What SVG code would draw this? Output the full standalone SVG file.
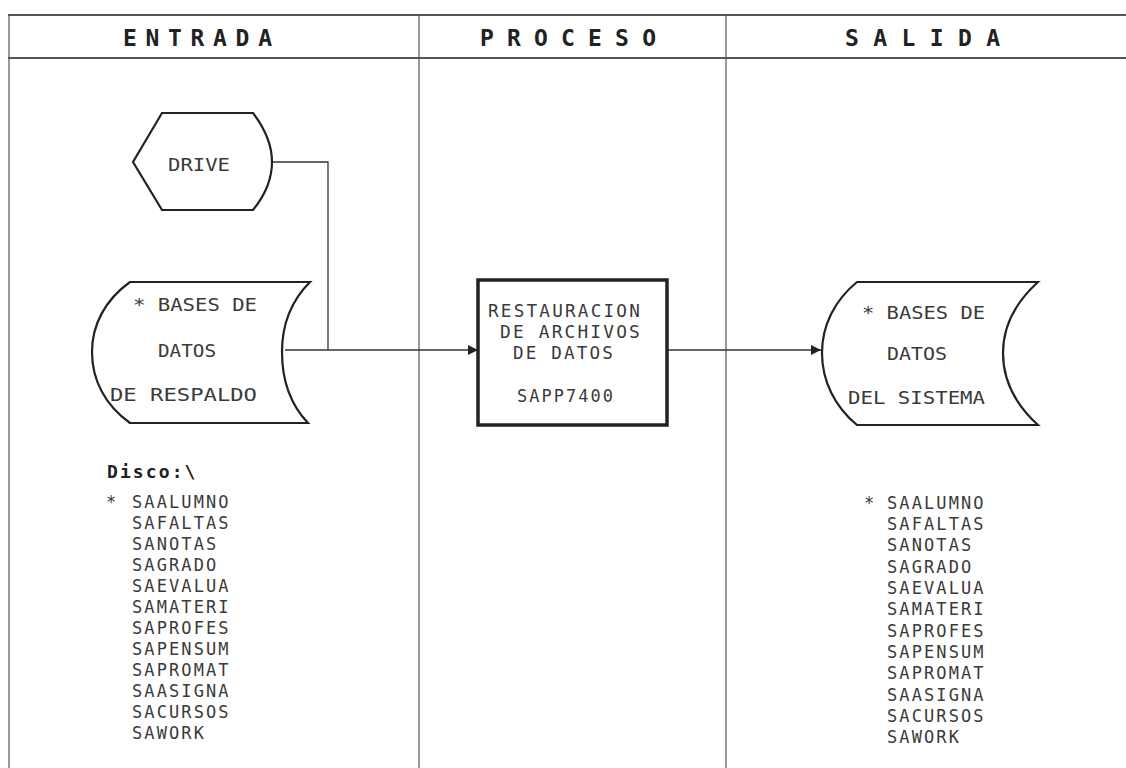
<svg xmlns="http://www.w3.org/2000/svg" width="1126" height="768" viewBox="0 0 1126 768">
<style>
.frame{stroke:#555;stroke-width:1.2;fill:none}
.hline{stroke:#555;stroke-width:2;fill:none}
.shape{stroke:#222;stroke-width:2.2;fill:#fff}
.box{stroke:#222;stroke-width:3.5;fill:#fff}
.conn{stroke:#333;stroke-width:1.3;fill:none}
.hdr{font-family:"DejaVu Sans Mono","Liberation Mono",monospace;font-weight:bold;font-size:23px;fill:#222}
.t{font-family:"DejaVu Sans Mono","Liberation Mono",monospace;font-size:18px;fill:#3a3a3a}
.l{font-family:"DejaVu Sans Mono","Liberation Mono",monospace;font-size:17px;letter-spacing:2.1px;fill:#3a3a3a}
.b{font-family:"DejaVu Sans Mono","Liberation Mono",monospace;font-size:18px;font-weight:bold;fill:#222}
</style>
<defs>
<marker id="arr" viewBox="0 0 10 10" refX="10" refY="5" markerWidth="10" markerHeight="10" markerUnits="userSpaceOnUse" orient="auto">
<path d="M0,0 L10,5 L0,10 Z" fill="#222"/>
</marker>
</defs>
<rect width="1126" height="768" fill="#fff"/>
<g id="frame">
<line class="hline" x1="8" y1="15" x2="1126" y2="15"/>
<line class="hline" x1="8" y1="58" x2="1126" y2="58"/>
<line class="frame" x1="9" y1="15" x2="9" y2="768"/>
<line class="frame" x1="419" y1="15" x2="419" y2="768"/>
<line class="frame" x1="726" y1="15" x2="726" y2="768"/>
<text class="hdr" x="123" y="46" textLength="149" lengthAdjust="spacing">ENTRADA</text>
<text class="hdr" x="480" y="46" textLength="176" lengthAdjust="spacing">PROCESO</text>
<text class="hdr" x="845" y="46" textLength="155" lengthAdjust="spacing">SALIDA</text>
</g>
<g id="connectors">
<polyline class="conn" points="272,162 328,162 328,350"/>
<line class="conn" x1="285" y1="350" x2="478" y2="350" marker-end="url(#arr)"/>
<line class="conn" x1="667" y1="350" x2="821" y2="350" marker-end="url(#arr)"/>
</g>
<g id="drive">
<path class="shape" d="M162,113 L253,113 C266,130 272,145 272,162 C272,179 266,194 253,210 L162,210 L133,162 Z"/>
<text class="t" x="168" y="171" textLength="62" lengthAdjust="spacingAndGlyphs">DRIVE</text>
</g>
<g id="bases-respaldo">
<path class="shape" d="M130,282 L310,282 C290,302 282,326 282,352 C282,380 290,404 308,423 L130,423 C105,405 92,380 92,352 C92,325 105,300 130,282 Z"/>
<text class="t" x="133" y="311" textLength="124" lengthAdjust="spacingAndGlyphs">* BASES DE</text>
<text class="t" x="158" y="357" textLength="58" lengthAdjust="spacingAndGlyphs">DATOS</text>
<text class="t" x="110" y="401" textLength="147" lengthAdjust="spacingAndGlyphs">DE RESPALDO</text>
</g>
<g id="proceso">
<rect class="box" x="478" y="280" width="189" height="145"/>
<text class="l" x="488" y="317" textLength="154" lengthAdjust="spacingAndGlyphs">RESTAURACION</text>
<text class="l" x="500" y="338" textLength="142" lengthAdjust="spacingAndGlyphs">DE ARCHIVOS</text>
<text class="l" x="513" y="359" textLength="102" lengthAdjust="spacingAndGlyphs">DE DATOS</text>
<text class="l" x="517" y="402" textLength="98" lengthAdjust="spacingAndGlyphs">SAPP7400</text>
</g>
<g id="bases-sistema">
<path class="shape" d="M857,282 L1038,282 C1016,302 1003,326 1003,353 C1003,381 1016,405 1038,425 L857,425 C835,407 822,381 822,353 C822,325 835,300 857,282 Z"/>
<text class="t" x="862" y="319" textLength="123" lengthAdjust="spacingAndGlyphs">* BASES DE</text>
<text class="t" x="887" y="360" textLength="60" lengthAdjust="spacingAndGlyphs">DATOS</text>
<text class="t" x="848" y="404" textLength="137" lengthAdjust="spacingAndGlyphs">DEL SISTEMA</text>
</g>
<g id="lista-entrada" class="l">
<text class="b" x="107" y="478">Disco:\</text>
<text x="106" y="508">*</text>
<text x="132" y="508">SAALUMNO</text>
<text x="132" y="529">SAFALTAS</text>
<text x="132" y="550">SANOTAS</text>
<text x="132" y="571">SAGRADO</text>
<text x="132" y="592">SAEVALUA</text>
<text x="132" y="613">SAMATERI</text>
<text x="132" y="634">SAPROFES</text>
<text x="132" y="655">SAPENSUM</text>
<text x="132" y="676">SAPROMAT</text>
<text x="132" y="697">SAASIGNA</text>
<text x="132" y="718">SACURSOS</text>
<text x="132" y="739">SAWORK</text>
</g>
<g id="lista-salida" class="l">
<text x="864" y="509">*</text>
<text x="887" y="509">SAALUMNO</text>
<text x="887" y="530">SAFALTAS</text>
<text x="887" y="551">SANOTAS</text>
<text x="887" y="573">SAGRADO</text>
<text x="887" y="594">SAEVALUA</text>
<text x="887" y="615">SAMATERI</text>
<text x="887" y="637">SAPROFES</text>
<text x="887" y="658">SAPENSUM</text>
<text x="887" y="679">SAPROMAT</text>
<text x="887" y="701">SAASIGNA</text>
<text x="887" y="722">SACURSOS</text>
<text x="887" y="743">SAWORK</text>
</g>
</svg>
